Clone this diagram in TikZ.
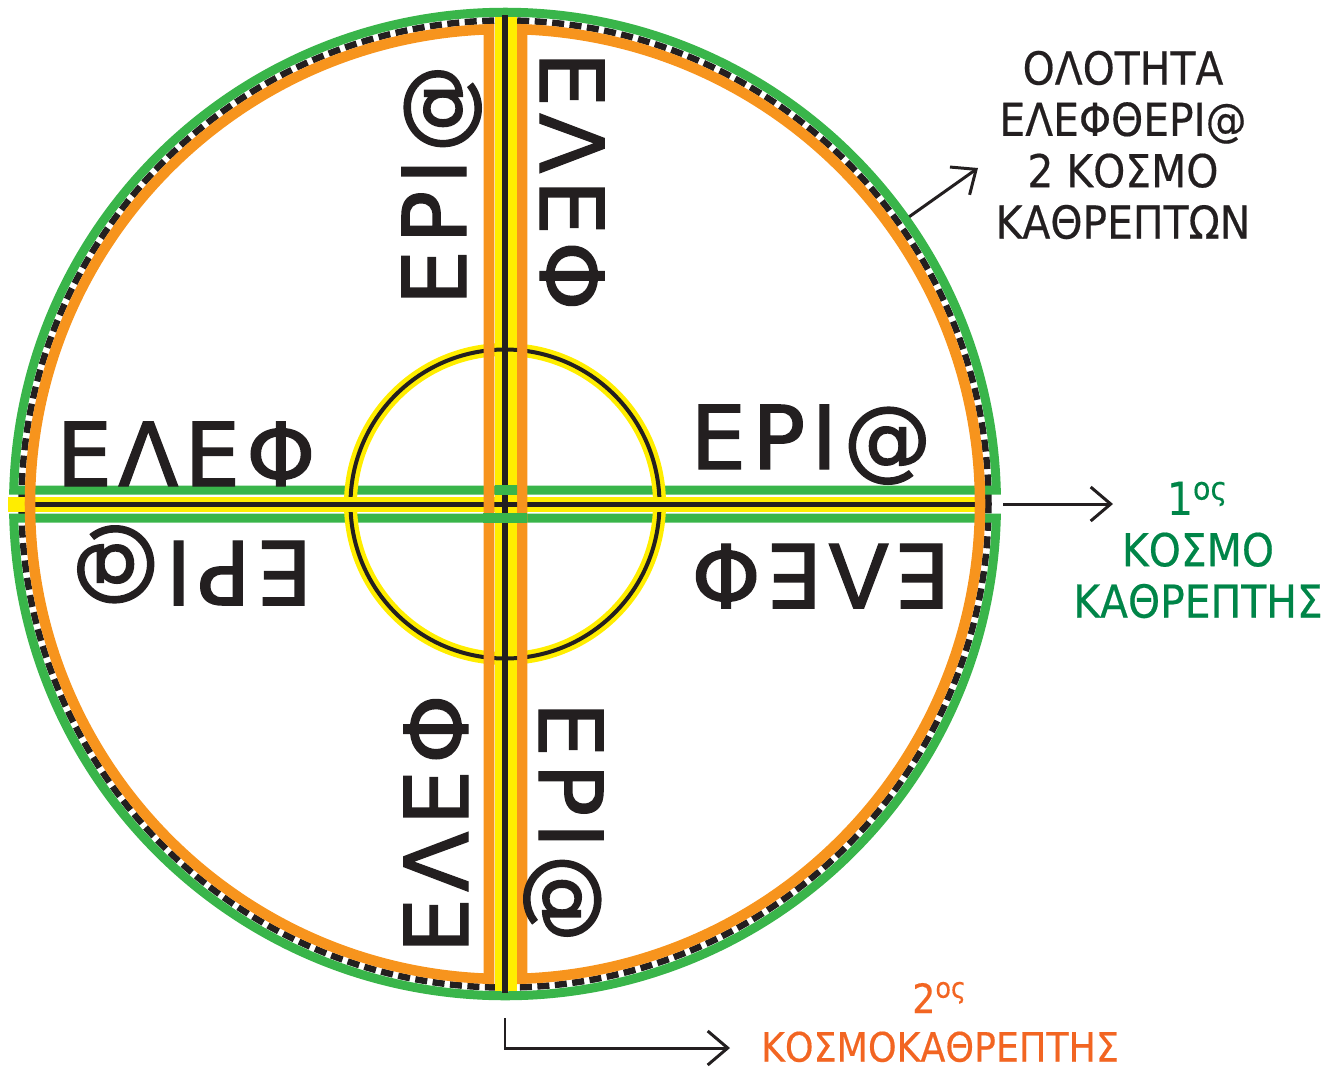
\documentclass[tikz,border=0pt]{standalone}
\usepackage{fontspec}
\setmainfont{DejaVu Sans}
\newfontfamily\glyphfont[LetterSpace=7, FakeBold=1.6]{DejaVu Sans}
\newfontfamily\captionfont[FakeStretch=0.9, FakeBold=0.4]{DejaVu Sans}
\usetikzlibrary{arrows.meta}

\begin{document}
\begin{tikzpicture}[x=0.01cm, y=0.01cm, every node/.style={inner sep=0pt}]
	% Define colors
	\definecolor{ringgreen}{RGB}{57, 181, 74}
	\definecolor{ringorange}{RGB}{247, 148, 29}
	\definecolor{bandyellow}{RGB}{255, 237, 0}
	\definecolor{lineblack}{RGB}{35, 31, 32}
	\definecolor{labelgreen}{RGB}{0, 133, 72}
	\definecolor{labelorange}{RGB}{242, 101, 34}

	% Styles
	\tikzstyle{word} = [text=lineblack, font=\glyphfont\fontsize{25}{30}\selectfont, text height=0.64cm, text depth=0pt, anchor=center]
	\tikzstyle{caption} = [font=\captionfont\fontsize{12.9}{14.6}\selectfont, align=center]
	\tikzstyle{pointer} = [draw=lineblack, line width=0.85pt, -{Straight Barb[length=0.2cm, width=0.34cm, line width=0.85pt]}]

	\useasboundingbox (0,0) rectangle (1332,-1072);

	% Centre of the wheel
	\coordinate (C) at (505,-504);

	% Outer dashed ring
	\draw[lineblack, line width=0.065cm, dash pattern=on 0.12cm off 0.055cm] (C) circle[radius=483.5];

	% Green halves (top and bottom)
	\draw[ringgreen, line width=0.09cm] (996.3,-490) arc[start angle=1.6, end angle=178.4, radius=491.5] -- cycle;
	\draw[ringgreen, line width=0.09cm] (996.3,-518) arc[start angle=-1.6, end angle=-178.4, radius=491.5] -- cycle;

	% Inner circle
	\draw[bandyellow, line width=0.13cm] (C) circle[radius=154.5];
	\draw[lineblack, line width=0.04cm] (C) circle[radius=154.5];

	% Horizontal band
	\draw[bandyellow, line width=0.15cm] (8,-504.5) -- (985,-504.5);
	\draw[lineblack, line width=0.045cm] (33,-504.5) -- (985,-504.5);

	% Orange halves (left and right)
	\draw[ringorange, line width=0.105cm] (489,-29.3) arc[start angle=91.93, end angle=268.07, radius=475] -- cycle;
	\draw[ringorange, line width=0.105cm] (522,-29.3) arc[start angle=87.95, end angle=-87.95, radius=475] -- cycle;

	% Vertical band
	\draw[bandyellow, line width=0.22cm] (506,-17) -- (506,-991);
	\draw[lineblack, line width=0.05cm] (505,-15) -- (505,-993);

	% Crossings in the middle
	\begin{scope}
		\clip (495,0) rectangle (517,-1072);
		\draw[lineblack, line width=0.04cm] (C) circle[radius=154.5];
		\draw[ringgreen, line width=0.1cm] (483,-490) -- (527,-490);
		\draw[lineblack, line width=0.045cm] (483,-504.5) -- (527,-504.5);
	\end{scope}
	\draw[ringgreen, line width=0.1cm] (483,-518) -- (527,-518);

	% Words in the quadrants
	\node[word] (ulrow) at (186,-454) {ΕΛΕΦ};
	\node[word, rotate=90] (ulcol) at (434,-185) {ΕΡΙ@};
	\node[word] (urrow) at (811,-437) {ΕΡΙ@};
	\node[word, rotate=-90] (urcol) at (572,-181) {ΕΛΕΦ};
	\node[word, rotate=180] (llrow) at (192,-573) {ΕΡΙ@};
	\node[word, rotate=90] (llcol) at (436,-824) {ΕΛΕΦ};
	\node[word, rotate=180] (lrrow) at (821,-576) {ΕΛΕΦ};
	\node[word, rotate=-90] (lrcol) at (571,-822) {ΕΡΙ@};

	% Captions
	\node[caption, text=lineblack] (wholeness) at (1123,-145) {ΟΛΟΤΗΤΑ\\ΕΛΕΦΘΕΡΙ@\\2 ΚΟΣΜΟ\\ΚΑΘΡΕΠΤΩΝ};
	\node[caption, text=labelgreen] (firstworld) at (1198,-550) {1\textsuperscript{ος}\\ΚΟΣΜΟ\\ΚΑΘΡΕΠΤΗΣ};
	\node[caption, text=labelorange, font=\captionfont\fontsize{11.5}{13.8}\selectfont] (secondworld) at (940,-1022) {2\textsuperscript{ος}\\ΚΟΣΜΟΚΑΘΡΕΠΤΗΣ};

	% Pointers
	\path (C) ++(35.4:496) coordinate (rimupper);
	\coordinate (wholetip) at (978,-168);
	\coordinate (rimright) at (1003,-504);
	\coordinate (firsttip) at (1113,-504);
	\coordinate (rimbottom) at (505,-1018);
	\coordinate (secondtip) at (730,-1048);
	\draw[pointer] (rimupper) -- (wholetip);
	\draw[pointer] (rimright) -- (firsttip);
	\draw[pointer] (rimbottom) |- (secondtip);

\end{tikzpicture}
\end{document}
